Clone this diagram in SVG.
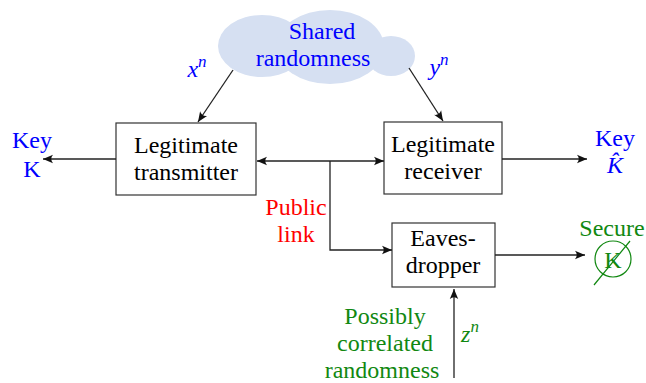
<svg xmlns="http://www.w3.org/2000/svg" width="646" height="383" viewBox="0 0 646 383" font-family="'Liberation Serif', 'Times New Roman', Times, 'DejaVu Serif', 'Noto Serif', serif">
<style>
text{font-family:'Liberation Serif','Times New Roman',Times,'DejaVu Serif','Noto Serif',serif;font-size:24px;text-anchor:middle}
.box{fill:#fff;stroke:#333;stroke-width:1.2}
.ln{fill:none;stroke:#222;stroke-width:1.3}
.blue{fill:#0000ff}.red{fill:#ff0000}.green{fill:#118811}
.it{font-style:italic}
.sup{font-size:17px}
</style>
<defs>
<marker id="ah" markerUnits="userSpaceOnUse" markerWidth="14" markerHeight="12" viewBox="-11 -6 14 12" refX="0" refY="0" orient="auto-start-reverse">
<path d="M0,0 L-10,-4.2 Q-6.5,0 -10,4.2 Z" fill="#111"/>
</marker>
</defs>
<g id="cloud">
<ellipse cx="262" cy="46" rx="44" ry="31" fill="#d6e0f2"/>
<ellipse cx="330" cy="47" rx="54" ry="37" fill="#d6e0f2"/>
<ellipse cx="391" cy="56" rx="24" ry="20" fill="#d6e0f2"/>
<text x="322" y="39" class="blue">Shared</text>
<text x="313" y="66" class="blue">randomness</text>
</g>
<g id="transmitter">
<rect class="box" x="116" y="123" width="140" height="72"/>
<text x="186" y="153">Legitimate</text>
<text x="186" y="180">transmitter</text>
</g>
<g id="receiver">
<rect class="box" x="384" y="122" width="118" height="72"/>
<text x="443" y="152">Legitimate</text>
<text x="443" y="179">receiver</text>
</g>
<g id="eavesdropper">
<rect class="box" x="392" y="223" width="103" height="64"/>
<text x="443" y="246">Eaves-</text>
<text x="443" y="273">dropper</text>
</g>
<g id="keyK">
<text x="32" y="148" class="blue">Key</text>
<text x="32" y="177" class="blue">K</text>
</g>
<g id="keyKhat">
<text x="615" y="146" class="blue">Key</text>
<text x="615" y="173" class="blue it">K̂</text>
</g>
<g id="secure">
<text x="612" y="236" class="green">Secure</text>
<circle cx="613" cy="259" r="18" fill="none" stroke="#118811" stroke-width="1.2"/>
<text x="613" y="268" class="green">K</text>
<line x1="594" y1="285" x2="630" y2="241" stroke="#118811" stroke-width="1.2"/>
</g>
<g id="possibly">
<text x="385" y="324" class="green">Possibly</text>
<text x="385" y="351" class="green">correlated</text>
<text x="382" y="378" class="green">randomness</text>
</g>
<g id="connectors">
<line class="ln" x1="233" y1="70" x2="198" y2="122" marker-end="url(#ah)"/>
<line class="ln" x1="409" y1="68" x2="443" y2="121" marker-end="url(#ah)"/>
<line class="ln" x1="116" y1="159" x2="43" y2="159" marker-end="url(#ah)"/>
<line class="ln" x1="257" y1="161" x2="384" y2="161" marker-start="url(#ah)" marker-end="url(#ah)"/>
<polyline class="ln" points="330,161 330,250 392,250" marker-end="url(#ah)"/>
<line class="ln" x1="502" y1="159" x2="587" y2="159" marker-end="url(#ah)"/>
<line class="ln" x1="495" y1="255" x2="585" y2="255" marker-end="url(#ah)"/>
<line class="ln" x1="454" y1="378" x2="454" y2="289" marker-end="url(#ah)"/>
<text x="296" y="215" class="red">Public</text>
<text x="296" y="242" class="red">link</text>
<text x="197" y="77" class="blue"><tspan class="it">x</tspan><tspan class="it sup" dy="-10">n</tspan></text>
<text x="439" y="75" class="blue"><tspan class="it">y</tspan><tspan class="it sup" dy="-10">n</tspan></text>
<text x="470" y="342" class="green"><tspan class="it">z</tspan><tspan class="it sup" dy="-10">n</tspan></text>
</g>
</svg>
